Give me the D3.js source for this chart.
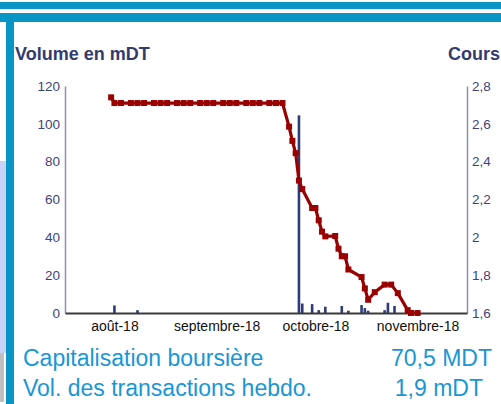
<!DOCTYPE html>
<html>
<head>
<meta charset="utf-8">
<script src="https://cdn.jsdelivr.net/npm/d3@7"></script>
<style>
  body { margin: 0; background: #fff; }
  svg { display: block; font-family: "Liberation Sans", Arial, sans-serif; }
</style>
</head>
<body>
<div id="chart"></div>
<script>
// cours (prix) - dates / valeurs
const coursDates = [
  "2018-07-31", "2018-08-01", "2018-08-03", "2018-08-06", "2018-08-08", "2018-08-10",
  "2018-08-13", "2018-08-15", "2018-08-17", "2018-08-20", "2018-08-22", "2018-08-24",
  "2018-08-27", "2018-08-29", "2018-08-31", "2018-09-03", "2018-09-05", "2018-09-07",
  "2018-09-10", "2018-09-12", "2018-09-14", "2018-09-17", "2018-09-19", "2018-09-21",
  "2018-09-23", "2018-09-24", "2018-09-25", "2018-09-26", "2018-09-27", "2018-09-30",
  "2018-10-01", "2018-10-02", "2018-10-03", "2018-10-04", "2018-10-07", "2018-10-08",
  "2018-10-09", "2018-10-10", "2018-10-11", "2018-10-15", "2018-10-16", "2018-10-17",
  "2018-10-19", "2018-10-22", "2018-10-24", "2018-10-26", "2018-10-29", "2018-10-30",
  "2018-11-01"
];
const coursValues = [
  2.74, 2.71, 2.71, 2.71, 2.71, 2.71,
  2.71, 2.71, 2.71, 2.71, 2.71, 2.71,
  2.71, 2.71, 2.71, 2.71, 2.71, 2.71,
  2.71, 2.71, 2.71, 2.71, 2.71, 2.71,
  2.585, 2.51, 2.445, 2.30, 2.255, 2.155,
  2.155, 2.09, 2.03, 2.005, 2.007, 1.94,
  1.90, 1.90, 1.83, 1.79, 1.73, 1.67,
  1.71, 1.75, 1.75, 1.705, 1.615, 1.60,
  1.60
];

// volumes en mDT
const volDates = [
  "2018-08-01", "2018-08-08", "2018-09-26", "2018-09-27", "2018-09-30", "2018-10-02",
  "2018-10-04", "2018-10-09", "2018-10-11", "2018-10-15", "2018-10-16", "2018-10-17",
  "2018-10-22", "2018-10-23", "2018-10-25", "2018-10-29"
];
const volValues = [4, 1.5, 104.5, 5, 4.7, 1.5, 3.3, 3.7, 1.2, 4.2, 2.6, 1.2, 1.5, 5.4, 3.7, 2];

const volTicks = [0, 20, 40, 60, 80, 100, 120];
const coursTicks = [1.6, 1.8, 2, 2.2, 2.4, 2.6, 2.8];
const monthTicks = ["2018-08-01", "2018-09-01", "2018-10-01", "2018-11-01"];
const monthLabels = ["août-18", "septembre-18", "octobre-18", "novembre-18"];

const width = 501, height = 404;
const parse = d3.timeParse("%Y-%m-%d");
const fr = d3.formatLocale({ decimal: ",", thousands: " ", grouping: [3], currency: ["", ""] });
const fmtCours = fr.format("~g");

const svg = d3.select("#chart").append("svg")
  .attr("width", width)
  .attr("height", height);

// cadre bleu
const blue = "#0895c6";
svg.append("rect").attr("x", 0).attr("y", 2).attr("width", width).attr("height", 7).attr("fill", blue);
svg.append("rect").attr("x", 0).attr("y", 13).attr("width", width).attr("height", 9).attr("fill", blue);
svg.append("rect").attr("x", 6).attr("y", 13).attr("width", 8).attr("height", height - 13).attr("fill", blue);
svg.append("rect").attr("x", 0).attr("y", 161).attr("width", 6).attr("height", 192).attr("fill", "#c9d3f8");
svg.append("rect").attr("x", 0).attr("y", 353).attr("width", 4).attr("height", 49).attr("fill", "#c0c0c0");

const x = d3.scaleTime()
  .domain([new Date(2018, 6, 17), new Date(2018, 10, 16)])
  .range([65, 467]);
const yVol = d3.scaleLinear().domain([0, 120]).range([313, 86]);
const yCours = d3.scaleLinear().domain([1.6, 2.8]).range([313, 86]);

// axes
const axisColor = "#8c8eb8";
const labelColor = "#3e4479";

const gLeft = svg.append("g")
  .attr("transform", "translate(65,0)")
  .call(d3.axisLeft(yVol).tickValues(volTicks).tickSize(0).tickPadding(5));
gLeft.select(".domain").attr("stroke", axisColor).attr("stroke-width", 1.5);
gLeft.selectAll("text").attr("fill", labelColor).style("font-size", "13.5px");

const gRight = svg.append("g")
  .attr("transform", "translate(467,0)")
  .call(d3.axisRight(yCours).tickValues(coursTicks).tickSize(0).tickPadding(5).tickFormat(fmtCours));
gRight.select(".domain").attr("stroke", axisColor).attr("stroke-width", 1.5);
gRight.selectAll("text").attr("fill", labelColor).style("font-size", "13.5px");

// barres de volume
svg.append("g")
  .selectAll("rect")
  .data(volDates.map((d, i) => ({ date: parse(d), v: volValues[i] })))
  .join("rect")
  .attr("x", d => x(d.date) - 1.3)
  .attr("width", 2.6)
  .attr("y", d => yVol(d.v))
  .attr("height", d => yVol(0) - yVol(d.v))
  .attr("fill", "#2f3a78");

const gBottom = svg.append("g")
  .attr("transform", "translate(0,313)")
  .call(d3.axisBottom(x).tickValues(monthTicks.map(parse)).tickSize(0).tickPadding(8)
    .tickFormat((d, i) => monthLabels[i]));
gBottom.select(".domain").attr("stroke", "#3a3a3a").attr("stroke-width", 2);
gBottom.selectAll("text").attr("fill", "#111").style("font-size", "14px");

// courbe du cours
const coursData = coursDates.map((d, i) => ({ date: parse(d), v: coursValues[i] }));
const line = d3.line().x(d => x(d.date)).y(d => yCours(d.v));
svg.append("path")
  .datum(coursData)
  .attr("d", line)
  .attr("fill", "none")
  .attr("stroke", "#990000")
  .attr("stroke-width", 3.2)
  .attr("stroke-linejoin", "round");
svg.append("g")
  .selectAll("rect")
  .data(coursData)
  .join("rect")
  .attr("x", d => x(d.date) - 3)
  .attr("y", d => yCours(d.v) - 3)
  .attr("width", 6)
  .attr("height", 6)
  .attr("fill", "#990000");

// titres
svg.append("text").attr("x", 15).attr("y", 60)
  .attr("fill", "#333a6e").style("font-size", "18px").style("font-weight", "bold")
  .text("Volume en mDT");
svg.append("text").attr("x", 500).attr("y", 60).attr("text-anchor", "end")
  .attr("fill", "#333a6e").style("font-size", "18px").style("font-weight", "bold")
  .text("Cours");

// pied
const foot = "#1996d6";
svg.append("text").attr("x", 23).attr("y", 366).attr("fill", foot).style("font-size", "23px")
  .text("Capitalisation boursière");
svg.append("text").attr("x", 492).attr("y", 366).attr("text-anchor", "end").attr("fill", foot).style("font-size", "23px")
  .text("70,5 MDT");
svg.append("text").attr("x", 23).attr("y", 396).attr("fill", foot).style("font-size", "23px")
  .text("Vol. des transactions hebdo.");
svg.append("text").attr("x", 483).attr("y", 396).attr("text-anchor", "end").attr("fill", foot).style("font-size", "23px")
  .text("1,9 mDT");
</script>
</body>
</html>
